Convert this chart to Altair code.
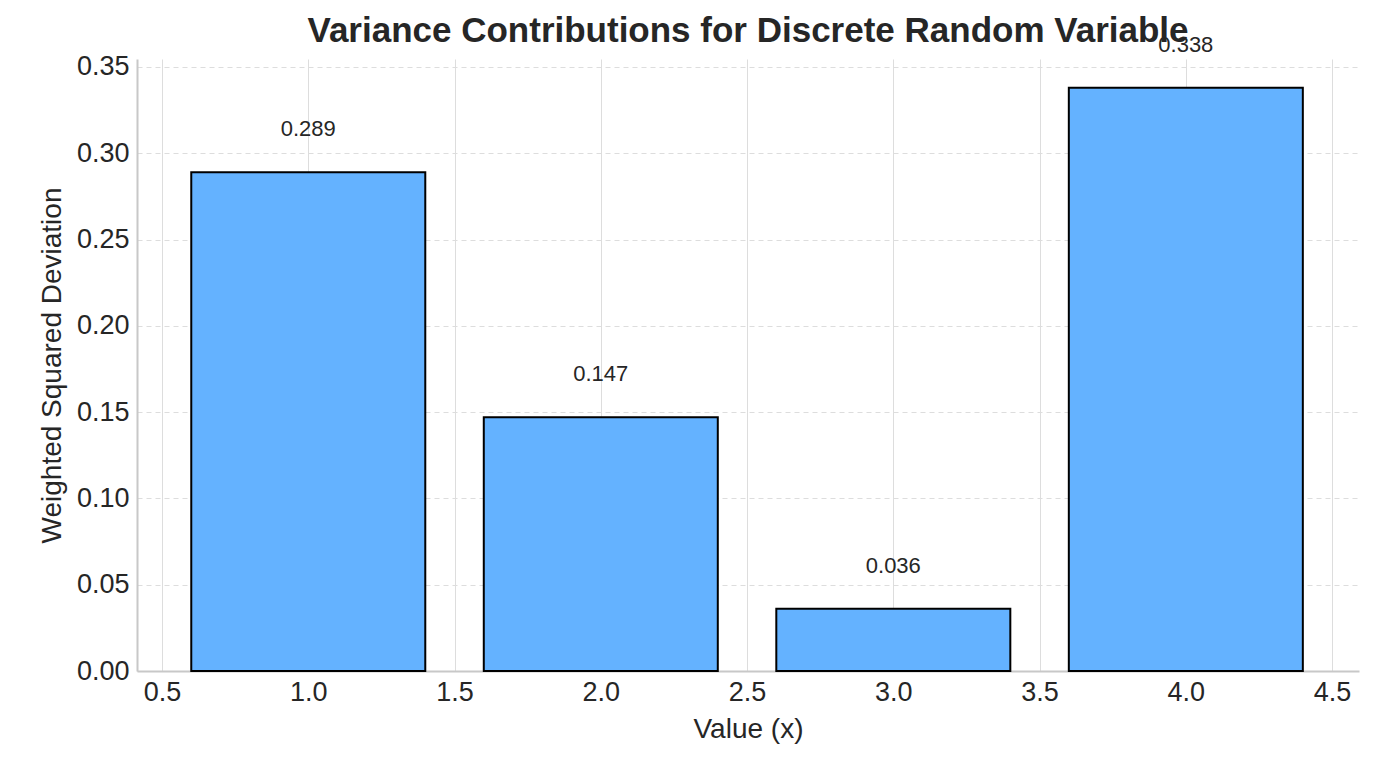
import pandas as pd
import altair as alt

x_values = [1.0, 2.0, 3.0, 4.0]
contributions = [0.289, 0.147, 0.036, 0.338]
labels = ["0.289", "0.147", "0.036", "0.338"]

data = pd.DataFrame({"x": x_values, "v": contributions, "label": labels})
data["x0"] = data["x"] - 0.4
data["x1"] = data["x"] + 0.4
data["ly"] = data["v"] + 0.025

xscale = alt.Scale(domain=[0.4145, 4.592], nice=False, zero=False)
yscale = alt.Scale(domain=[0, 0.3546], nice=False)

bars = alt.Chart(data).mark_rect(
    color="#64b2ff", stroke="black", strokeWidth=2
).encode(
    x=alt.X("x0:Q", scale=xscale, axis=alt.Axis(
        title="Value (x)", values=[0.5, 1, 1.5, 2, 2.5, 3, 3.5, 4, 4.5], format=".1f",
        grid=True, gridColor="#dddddd", gridDash=[])),
    x2="x1:Q",
    y=alt.Y("v:Q", scale=yscale, axis=alt.Axis(
        title="Weighted Squared Deviation", values=[0, 0.05, 0.1, 0.15, 0.2, 0.25, 0.3, 0.35],
        format=".2f", grid=True, gridColor="#dddddd", gridDash=[5, 4])),
    y2=alt.datum(0),
)

text = alt.Chart(data).mark_text(
    fontSize=22, font="Liberation Sans", color="#262626", baseline="middle"
).encode(
    x=alt.X("x:Q", scale=xscale),
    y=alt.Y("ly:Q", scale=yscale),
    text="label:N",
)

chart = (bars + text).properties(
    width=1222, height=612,
    padding={"left": 30, "top": 5, "right": 5, "bottom": 5},
    title=alt.TitleParams("Variance Contributions for Discrete Random Variable",
                          fontSize=35, font="Liberation Sans", fontWeight="bold",
                          color="#262626", offset=-15),
).configure_view(stroke=None).configure_axis(
    labelFont="Liberation Sans", labelFontSize=27, labelColor="#262626",
    titleFont="Liberation Sans", titleFontSize=28, titleFontWeight="normal",
    titleColor="#262626", domainColor="#c8c8c8", domainWidth=2,
    tickSize=0, labelPadding=8, titlePadding=10,
)

chart.save("out.html", embed_options={"renderer": "svg", "actions": False})
